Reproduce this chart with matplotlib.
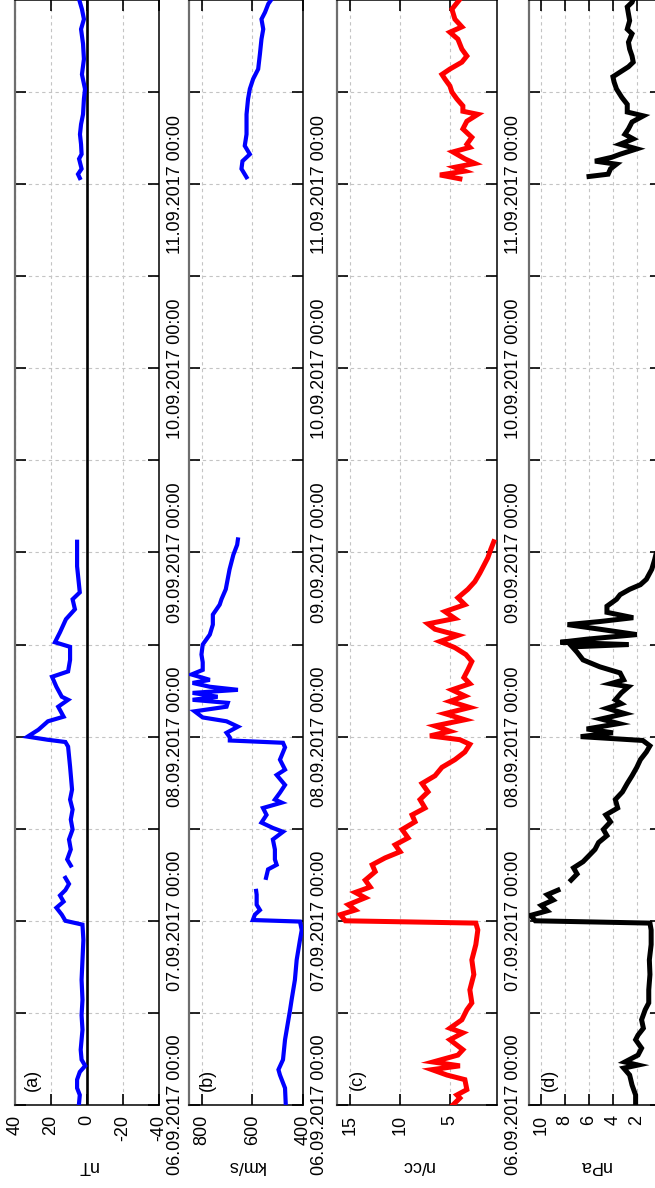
"""Solar wind overview, 06-12.09.2017 — rotated layout (time runs upward)"""
import numpy as np
import matplotlib as mpl
import matplotlib.pyplot as plt
import matplotlib.dates as mdates
from datetime import datetime

nan = np.nan

# ── data: hours after 06.09.2017 00:00 and measured values ──
bz_h = [0.0, 1.3, 2.2, 3.3, 4.3, 5.1, 5.9, 7.2, 8.5, 9.8, 11.7, 13.7, 16.3, 18.9, 21.5, 23.5,
        24.0, 24.8, 25.7, 26.5, 27.3, 28.0, 28.8, 29.6, 30.4, 31.2, 32.0, 33.3, 34.6, 35.9,
        37.2, 38.5, 39.8, 41.1, 44.1, 46.7, 47.3, 47.6, 48.0, 48.9, 50.0, 50.6, 51.9, 52.8,
        53.2, 54.5, 55.8, 56.5, 58.0, 59.7, 60.3, 61.6, 63.3, 64.6, 65.9, 66.8, 70.2, 72.1,
        73.4, 97.0, 120.8, 121.3, 122.0, 123.3, 123.9, 125.2, 126.5, 127.8, 129.1, 131.1,
        132.4, 134.3, 136.3, 138.3, 140.2, 141.5, 142.8, 144.1]
bz_v = [4.5, 4, 5.5, 5.5, 4, 1, 3, 3.5, 3, 2.5, 3, 2.5, 3, 2.5, 2, 2.5,
        12, 14, 17, 13, 15, 12, 10, 12, nan, 9, 11, 9, 10, 8,
        9, 8, 9.4, 8.3, 9.4, 10.5, 12, 22, 33, 27, 21.7, 13, 16, 10.5,
        14, 17, 19.4, 10.5, 9.4, 9.4, 17.8, 15, 11.7, 6.7, 8, 4, 5.5, 5.5,
        5.5, nan, 4, 5, 3, 4.4, 3, 3.3, 3.9, 3.3, 2.2, 1.7,
        1.1, 2.8, 1.7, 2.2, 3.3, 1.7, 2.8, 4.4]

vsw_h = [0.0, 2.2, 3.9, 4.6, 5.9, 8.5, 12.4, 13.7, 16.3, 18.9, 21.5, 22.8, 23.9,
         24.1, 24.8, 25.4, 26.1, 27.4, 27.9, 28.7, 29.6, 30.7, 31.3, 32.0, 33.3, 34.6,
         35.6, 36.1, 36.8, 37.8, 38.7, 39.4, 39.8, 40.7, 41.7, 43.0, 43.7, 45.0, 46.6,
         47.2, 47.5, 47.9, 48.5, 49.3, 50.0, 50.5, 51.3, 51.9, 52.4, 52.8, 53.2, 53.7,
         54.1, 54.5, 55.0, 55.4, 56.1, 56.7, 57.7, 58.7, 60.0, 61.3, 62.6, 63.9, 65.2,
         65.9, 67.2, 69.8, 71.7, 73.0, 73.7, 97.0, 120.9, 122.0, 123.0, 123.9, 125.0,
         126.5, 129.1, 131.1, 132.4, 133.7, 135.0, 137.0, 138.9, 140.2, 141.5, 142.4,
         143.5, 144.1]
vsw_v = [468, 471, 491, 497, 479, 471, 451, 445, 432, 425, 412, 405, 412,
         598, 590, 570, 583, 583, 585, nan, 546, 538, 504, 511, 511, 519,
         479, 519, 564, 544, 558, 484, 511, 491, 471, 504, 471, 491, 471,
         479, 689, 689, 702, 657, 702, 796, 828, 702, 697, 836, 737, 836,
         657, 768, 836, 768, 840, 796, 796, 801, 796, 768, 756, 756, 729,
         722, 705, 690, 675, 660, 657, nan, 623, 643, 639, 610, 630,
         623, 623, 617, 610, 597, 577, 570, 564, 557, 564, 550,
         537, 524]

np_h = [0.0, 0.9, 1.3, 2.0, 3.3, 3.9, 4.6, 5.1, 5.6, 6.5, 7.2, 7.8, 8.5, 9.4, 10.0, 11.1,
        12.4, 13.3, 15.0, 17.0, 18.9, 20.9, 22.8, 23.7, 24.0, 24.8, 25.4, 26.1, 27.0, 27.7,
        28.4, 29.3, 30.4, 31.3, 32.2, 33.0, 33.9, 34.8, 35.9, 36.9, 37.8, 38.7, 39.8, 40.8,
        41.9, 42.9, 44.0, 45.0, 46.0, 47.0, 47.6, 48.1, 48.7, 49.4, 50.2, 51.0, 51.8, 52.6,
        53.3, 54.1, 54.9, 55.7, 56.7, 57.8, 58.7, 59.6, 60.4, 61.2, 62.0, 62.7, 63.4, 64.3,
        65.2, 66.1, 67.2, 68.2, 69.3, 70.3, 71.3, 72.4, 73.4, 97.0, 120.7, 121.2, 121.7,
        122.2, 122.7, 123.3, 124.2, 124.8, 125.2, 126.1, 127.2, 128.2, 129.1, 129.5, 130.2,
        131.1, 132.0, 132.8, 133.7, 134.3, 135.0, 135.9, 136.7, 137.6, 138.9, 139.8, 140.5,
        141.5, 142.8, 144.1]
np_v = [4.7, 4.0, 4.3, 3.3, 3.5, 5.3, 6.8, 4.0, 6.7, 4.2, 3.7, 4.3, 5.0, 3.7, 5.0, 3.8,
        3.3, 2.8, 3.0, 2.6, 2.8, 2.4, 2.2, 2.4, 15.5, 16.0, 14.5, 15.2, 13.5, 14.5,
        13.0, 13.5, 12.5, 12.8, 11.5, 10.0, 10.5, 9.2, 9.8, 8.5, 8.8, 7.5, 8.0, 7.2,
        7.8, 6.5, 5.8, 4.5, 3.5, 3.0, 4.0, 7.0, 5.0, 6.5, 3.5, 5.5, 3.0, 5.0,
        3.5, 4.8, 3.0, 3.6, 3.2, 2.8, 3.4, 4.5, 6.0, 4.2, 6.5, 7.2, 4.5, 5.5,
        3.5, 4.2, 3.2, 2.5, 2.0, 1.6, 1.2, 0.9, 0.6, nan, 4.0, 6.0, 3.5,
        4.5, 2.5, 3.5, 4.7, 3.0, 3.3, 2.8, 3.7, 3.3, 2.2, 3.7, 3.7,
        4.3, 4.8, 5.0, 5.5, 5.8, 5.0, 3.8, 3.3, 3.8, 4.2, 5.0, 3.8,
        4.5, 4.8, 4.0]

pdyn_h = [0.0, 1.3, 2.6, 3.9, 4.8, 5.2, 5.6, 6.5, 7.4, 8.5, 9.1, 10.0, 11.1, 12.4, 13.3,
          15.0, 17.0, 18.9, 20.9, 22.8, 23.7, 24.0, 24.7, 25.3, 26.0, 26.7, 27.4, 28.0,
          28.6, 29.3, 30.1, 30.9, 31.7, 32.5, 33.3, 34.2, 35.1, 35.9, 36.9, 37.8, 38.7,
          39.8, 40.8, 41.9, 42.9, 44.0, 45.0, 46.0, 46.8, 47.5, 48.0, 48.5, 49.0, 49.7,
          50.3, 51.0, 51.7, 52.3, 52.8, 53.7, 54.5, 54.9, 55.4, 56.3, 57.1, 58.0, 59.0,
          59.7, 60.0, 60.3, 60.7, 61.3, 62.0, 62.6, 63.0, 63.5, 64.2, 65.0, 65.9, 66.5,
          67.2, 67.8, 68.5, 69.8, 71.1, 72.4, 73.4, 97.0, 121.0, 121.3, 122.0, 122.6,
          123.0, 123.5, 123.9, 124.6, 125.2, 125.9, 126.5, 127.2, 128.1, 128.9, 129.4,
          130.4, 131.3, 132.4, 133.3, 134.0, 134.6, 135.3, 135.9, 136.7, 137.6, 138.5,
          139.6, 140.2, 141.3, 142.2, 143.1, 143.7, 144.1]
pdyn_v = [2.1, 2.1, 2.4, 2.6, 3.1, 1.9, 3.0, 1.9, 1.6, 2.1, 1.9, 1.45, 1.6, 1.3, 1.0,
          1.0, 0.9, 0.95, 0.8, 0.8, 0.9, 10.5, 10.9, 9.5, 10.0, 9.0, 9.5, 8.6,
          nan, 7.5, 7.0, 7.3, 6.5, 6.0, 5.5, 5.2, 4.5, 4.8, 4.2, 4.6, 3.6,
          3.8, 3.2, 2.8, 2.4, 2.0, 1.7, 1.2, 0.9, 1.5, 6.7, 4.0, 6.2, 3.5,
          5.0, 3.0, 4.5, 3.3, 3.8, 3.3, 2.7, 4.2, 3.1, 3.4, 5.1, 6.5, 7.0,
          7.4, 2.7, 8.4, 6.2, 2.0, 5.1, 7.8, 5.1, 2.3, 4.5, 4.5, 3.7, 3.4,
          2.6, 1.7, 1.2, 0.75, 0.5, 0.3, 0.25, nan, 6.0, 4.4, 4.2, 3.7,
          5.5, 4.1, 3.4, 2.0, 3.4, 2.3, 3.0, 2.7, 2.4, 1.45, 2.8,
          2.8, 3.25, 3.7, 3.9, 4.0, 3.4, 2.7, 2.3, 2.4, 2.6, 2.7,
          2.4, 2.8, 2.6, 2.7, 2.8, 2.4, 2.3]

units = ["nT", "km/s", "n/cc", "nPa"]
letters = ["(a)", "(b)", "(c)", "(d)"]

# ── style ──
mpl.rcParams.update({
    "font.family": ["Liberation Sans", "DejaVu Sans"],
    "font.size": 13,
    "axes.unicode_minus": False,
})

t0 = mdates.date2num(datetime(2017, 9, 6))


def tnum(hours):
    return t0 + np.asarray(hours, float) / 24.0


fig = plt.figure(figsize=(6.55, 11.88), dpi=100)

bottom, height = 0.0699, 0.9301
panels = [
    # rect left, width, hours, values, colour, lw, xlim, ticks, letter x
    (0.0229, 0.2198, bz_h, bz_v, "#0000ff", 3.0, (40, -40), [-40, -20, 0, 20, 40], 0.12),
    (0.2890, 0.1736, vsw_h, vsw_v, "#0000ff", 3.0, (849, 400), [400, 600, 800], 0.16),
    (0.5150, 0.2434, np_h, np_v, "#ff0000", 3.6, (16.3, 0.3), [5, 10, 15], 0.125),
    (0.8081, 0.2006, pdyn_h, pdyn_v, "#000000", 3.6, (11, 0), [2, 4, 6, 8, 10], 0.155),
]

for i, (left, width, hh, vv, col, lw, xl, ticks, lx) in enumerate(panels):
    ax = fig.add_axes([left, bottom, width, height])

    ax.grid(True, which="both", color="#c4c4c4", linestyle=(0, (3, 3)), linewidth=0.8)
    ax.set_axisbelow(True)

    if i == 0:
        ax.axvline(0, color="black", linewidth=1.9, zorder=2)

    ax.plot(vv, tnum(hh), color=col, linewidth=lw, solid_joinstyle="miter", zorder=3)

    ax.set_xlim(*xl)
    ax.set_ylim(t0, t0 + 6)

    # time axis (vertical)
    ax.yaxis.set_major_locator(mpl.ticker.FixedLocator(t0 + np.arange(6)))
    ax.yaxis.set_minor_locator(mpl.ticker.FixedLocator(t0 + 0.5 + np.arange(6)))
    ax.yaxis.set_major_formatter(mdates.DateFormatter("%d.%m.%Y %H:%M"))
    ax.tick_params(axis="y", which="both", direction="in", length=8, width=1.2,
                   left=True, right=True, labelleft=False, labelright=(i < 3),
                   labelrotation=90, pad=6)
    # centre the rotated date labels on their ticks
    for lab in ax.yaxis.get_majorticklabels():
        lab.set_verticalalignment("center")

    # value axis (horizontal)
    ax.set_xticks(ticks)
    ax.tick_params(axis="x", which="both", direction="in", length=8, width=1.2,
                   top=True, bottom=True, labelrotation=90, pad=7)

    for side in ["right", "top", "bottom"]:
        ax.spines[side].set_linewidth(1.1)
        ax.spines[side].set_color("black")
    ax.spines["left"].set_linewidth(1.6)
    ax.spines["left"].set_color("#6e6e6e")

    ax.set_xlabel(units[i], rotation=180, va="center", ha="center")
    ax.xaxis.set_label_coords(0.5, -0.0545)

    ax.text(lx, 0.023, letters[i], transform=ax.transAxes, rotation=90,
            ha="center", va="center")

fig.savefig("out.png", dpi=100)
print("OK")
